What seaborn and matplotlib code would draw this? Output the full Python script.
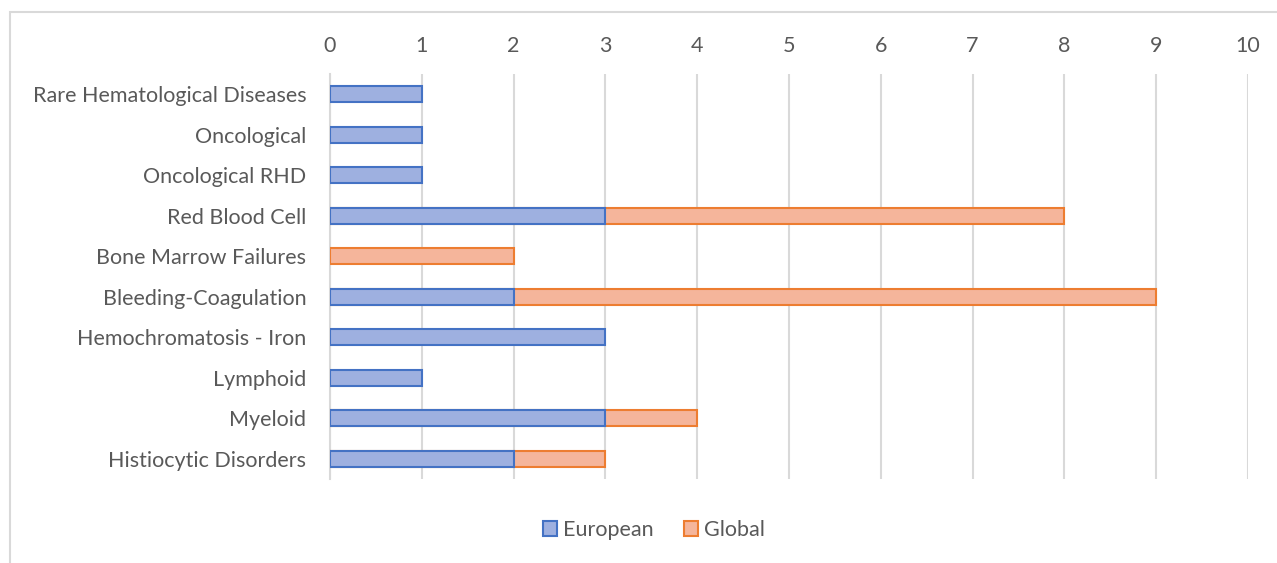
import matplotlib
matplotlib.use("Agg")
import matplotlib.pyplot as plt
from matplotlib.patches import Patch, Rectangle
import seaborn as sns
import pandas as pd

categories = ["Rare Hematological Diseases", "Oncological", "Oncological RHD", "Red Blood Cell",
              "Bone Marrow Failures", "Bleeding-Coagulation", "Hemochromatosis - Iron",
              "Lymphoid", "Myeloid", "Histiocytic Disorders"]
european = [1, 1, 1, 3, 0, 2, 3, 1, 3, 2]
global_ = [0, 0, 0, 5, 2, 7, 0, 0, 1, 1]
xticks = list(range(0, 11))

sns.set_theme(style="white")
plt.rcParams['font.family'] = ['Lato', 'DejaVu Sans']
text_color = "#595959"

df = pd.DataFrame({"cat": categories, "European": european, "Global": global_})
df["Total"] = df["European"] + df["Global"]

fig = plt.figure(figsize=(12.77, 5.63), dpi=100)
ax = fig.add_axes([330/1277, 1-479/563, (1248-330)/1277, (479-74)/563])

blue_face, blue_edge = "#9eb0e0", "#4472c4"
orange_face, orange_edge = "#f5b59b", "#ed7d31"

sns.barplot(data=df, x="Total", y="cat", color=orange_face, edgecolor=orange_edge,
            linewidth=1.5, width=0.4, saturation=1, ax=ax, orient="h", zorder=3)
n = len(ax.patches)
sns.barplot(data=df, x="European", y="cat", color=blue_face, edgecolor=blue_edge,
            linewidth=1.5, width=0.4, saturation=1, ax=ax, orient="h", zorder=4)
for p in ax.patches:
    if p.get_width() == 0:
        p.set_visible(False)
for i, p in enumerate(ax.patches[:n]):
    if global_[i] == 0:
        p.set_visible(False)

ax.set_xlim(0, 10)
ax.set_xticks(xticks)
ax.xaxis.tick_top()
ax.set_xlabel("")
ax.set_ylabel("")
ax.tick_params(axis="x", length=0, pad=13, labelsize=15.5, labelcolor=text_color)
ax.tick_params(axis="y", length=0, pad=17, labelsize=15.5, labelcolor=text_color)
ax.grid(axis="x", color="#d9d9d9", linewidth=1.5, zorder=0)
ax.set_axisbelow(True)
for s in ["top", "right", "bottom"]:
    ax.spines[s].set_visible(False)
ax.spines["left"].set_color("#d9d9d9")
ax.spines["left"].set_linewidth(1.5)

handles = [Patch(facecolor=blue_face, edgecolor=blue_edge, linewidth=1.5, label="European"),
           Patch(facecolor=orange_face, edgecolor=orange_edge, linewidth=1.5, label="Global")]
leg = fig.legend(handles=handles, loc="center", bbox_to_anchor=(654/1277, 1-530/563), ncol=2,
                 frameon=False, fontsize=15.5, handlelength=0.65, handleheight=0.65,
                 handletextpad=0.3, columnspacing=1.4)
for t in leg.get_texts():
    t.set_color(text_color)

fig.patches.append(Rectangle((10/1277, -0.1), 1.2, 0.1 + 1 - 12/563, transform=fig.transFigure,
                             fill=False, edgecolor="#d9d9d9", linewidth=1.5))

fig.savefig("out.png", dpi=100)
